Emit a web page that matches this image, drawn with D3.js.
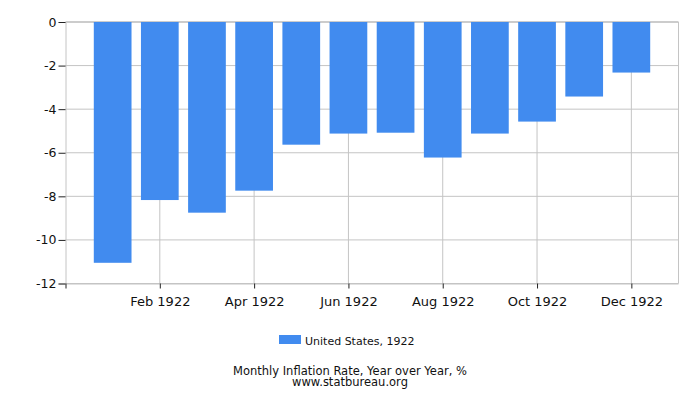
<!DOCTYPE html>
<html>
<head>
<meta charset="utf-8">
<script src="https://cdn.jsdelivr.net/npm/d3@7"></script>
<style>
  body { margin: 0; background: #fff; }
  text { font-family: "DejaVu Sans", Verdana, sans-serif; fill: #111; }
</style>
</head>
<body>
<svg width="700" height="400"></svg>
<script>
// monthly values, 1922
const months = ["Jan", "Feb", "Mar", "Apr", "May", "Jun", "Jul", "Aug", "Sep", "Oct", "Nov", "Dec"];
const values = [-11.05, -8.17, -8.75, -7.74, -5.63, -5.12, -5.08, -6.22, -5.12, -4.57, -3.42, -2.32];
const yTicks = [0, -2, -4, -6, -8, -10, -12];
const seriesName = "United States, 1922";
const title = "Monthly Inflation Rate, Year over Year, %";
const source = "www.statbureau.org";

const svg = d3.select("svg");
const plotLeft = 65.5, plotRight = 678.5, plotTop = 22, plotBottom = 283.5;

// month index 1..12, one empty slot each side
const x = d3.scaleLinear().domain([0, 13]).range([plotLeft, plotRight]);
const y = d3.scaleLinear().domain([-12, 0]).range([plotBottom, plotTop]);
const step = x(1) - x(0);
const barW = step * 0.8;

// horizontal grid
svg.append("g")
  .selectAll("line")
  .data(yTicks)
  .join("line")
  .attr("x1", plotLeft).attr("x2", plotRight)
  .attr("y1", d => y(d)).attr("y2", d => y(d))
  .attr("stroke", d => d === 0 ? "#999" : "#c4c4c4");

// vertical grid on even months
const xTickIdx = [2, 4, 6, 8, 10, 12];
svg.append("g")
  .selectAll("line")
  .data(xTickIdx)
  .join("line")
  .attr("x1", d => x(d)).attr("x2", d => x(d))
  .attr("y1", plotTop).attr("y2", plotBottom)
  .attr("stroke", "#c4c4c4");

// right border
svg.append("line")
  .attr("x1", plotRight).attr("x2", plotRight)
  .attr("y1", plotTop).attr("y2", plotBottom)
  .attr("stroke", "#c4c4c4");

// bars
svg.append("g")
  .selectAll("rect")
  .data(values)
  .join("rect")
  .attr("x", (d, i) => x(i + 1) - barW / 2)
  .attr("width", barW)
  .attr("y", y(0))
  .attr("height", d => y(d) - y(0))
  .attr("fill", "#418bef");

// y axis
const yAxis = d3.axisLeft(y).tickValues(yTicks).tickSize(7).tickPadding(2).tickFormat(d3.format("d"));
svg.append("g")
  .attr("transform", `translate(${plotLeft},0)`)
  .call(yAxis)
  .call(g => {
    g.select(".domain").attr("stroke", "#c4c4c4");
    g.selectAll(".tick line").attr("stroke", "#222");
    g.selectAll(".tick text").attr("font-size", 12.5).attr("fill", "#111")
      .text(d => d < 0 ? "-" + Math.abs(d) : d);
  });

// x axis
const xAxis = d3.axisBottom(x)
  .tickValues([0].concat(xTickIdx))
  .tickSize(5)
  .tickPadding(8)
  .tickFormat(d => d === 0 ? "" : months[d - 1] + " 1922");
svg.append("g")
  .attr("transform", `translate(0,${plotBottom})`)
  .call(xAxis)
  .call(g => {
    g.select(".domain").attr("stroke", "#c4c4c4").attr("d", `M${plotLeft},0.5H${plotRight}`);
    g.selectAll(".tick line").attr("stroke", "#222");
    g.selectAll(".tick text").attr("font-size", 13).attr("fill", "#111");
  });

// legend
svg.append("rect").attr("x", 279).attr("y", 335).attr("width", 22).attr("height", 9).attr("fill", "#418bef");
svg.append("text").attr("x", 305).attr("y", 344.5).attr("font-size", 11).text(seriesName);

// footer
svg.append("text").attr("x", 350).attr("y", 374.5).attr("text-anchor", "middle").attr("font-size", 11.5).text(title);
svg.append("text").attr("x", 350).attr("y", 385.5).attr("text-anchor", "middle").attr("font-size", 11.5).text(source);
</script>
</body>
</html>
